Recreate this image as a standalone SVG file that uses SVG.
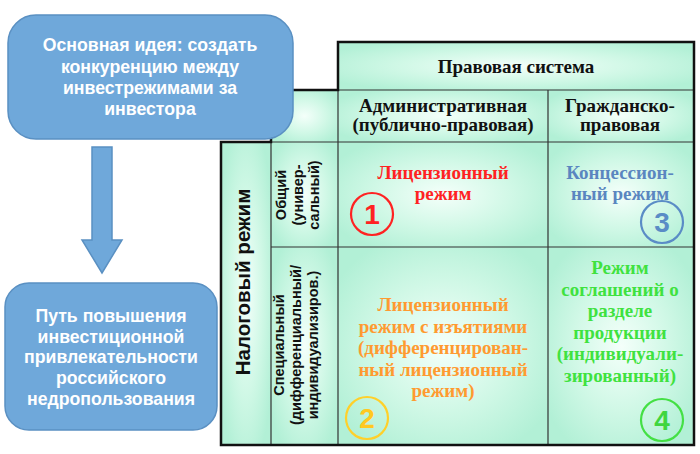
<svg xmlns="http://www.w3.org/2000/svg" width="700" height="454" viewBox="0 0 700 454">
<defs>
<radialGradient id="cell" cx="0.5" cy="0.5" r="0.6">
<stop offset="0" stop-color="#f4fffa"/>
<stop offset="0.55" stop-color="#d0f8e6"/>
<stop offset="1" stop-color="#b2f0d6"/>
</radialGradient>
<style>
.cell{fill:url(#cell);stroke:none}
.grid{stroke:#333;stroke-width:1.2;fill:none}
.border{stroke:#111;stroke-width:2.5;fill:none}
.blue{fill:#6fa8da;stroke:#5a90c2;stroke-width:1.5}
.wt{font-family:"Liberation Sans",Arial,sans-serif;font-weight:bold;font-size:17.7px;fill:#fff;text-anchor:middle}
.hd{font-family:"Liberation Serif","Times New Roman",serif;font-weight:bold;font-size:19px;fill:#111;text-anchor:middle}
.rs{font-family:"Liberation Serif","Times New Roman",serif;font-weight:bold;font-size:19px;text-anchor:middle}
.sb{font-family:"Liberation Sans",Arial,sans-serif;font-weight:bold;fill:#111;text-anchor:middle}
.num{font-family:"Liberation Sans",Arial,sans-serif;font-weight:bold;font-size:28px;text-anchor:middle}
.circ{fill:none;stroke-width:2.2}
</style>
</defs>
<rect width="700" height="454" fill="#fff"/>

<g id="table">
<rect class="cell" x="338" y="42" width="356" height="48"/>
<rect class="cell" x="271" y="90" width="67" height="52"/>
<rect class="cell" x="338" y="90" width="210" height="52"/>
<rect class="cell" x="548" y="90" width="146" height="52"/>
<rect class="cell" x="221" y="142" width="50" height="303"/>
<rect class="cell" x="271" y="142" width="67" height="105"/>
<rect class="cell" x="338" y="142" width="210" height="105"/>
<rect class="cell" x="548" y="142" width="146" height="105"/>
<rect class="cell" x="271" y="247" width="67" height="198"/>
<rect class="cell" x="338" y="247" width="210" height="198"/>
<rect class="cell" x="548" y="247" width="146" height="198"/>
<path class="grid" d="M338 90H694M271 142H694M271 247H694M338 90V445M548 90V445M271 142V445"/>
<path class="border" d="M338 42H694V445H221V142H271V90H338Z"/>
</g>

<g id="header-legal">
<text class="hd" x="516" y="73">Правовая система</text>
</g>
<g id="header-admin">
<text class="hd" font-size="18.5"><tspan x="443" y="112">Административная</tspan><tspan x="443" y="131">(публично-правовая)</tspan></text>
</g>
<g id="header-civil">
<text class="hd" font-size="18.5"><tspan x="620" y="112">Гражданско-</tspan><tspan x="620" y="131">правовая</tspan></text>
</g>
<g id="header-tax">
<text class="sb" font-size="20.5" transform="translate(250,282) rotate(-90)" x="0" y="0">Налоговый режим</text>
</g>
<g id="row-general">
<text class="sb" font-size="14.5" transform="translate(0,195) rotate(-90)"><tspan x="0" y="286">Общий</tspan><tspan x="0" y="302.5">(универ-</tspan><tspan x="0" y="319">сальный)</tspan></text>
</g>
<g id="row-special">
<text class="sb" font-size="14.5" transform="translate(0,345) rotate(-90)"><tspan x="0" y="284">Специальный</tspan><tspan x="0" y="301">(дифференциальный/</tspan><tspan x="0" y="318">индивидуализиров.)</tspan></text>
</g>

<g id="cell-1">
<text class="rs" fill="#ff2222"><tspan x="443" y="179">Лицензионный</tspan><tspan x="443" y="200">режим</tspan></text>
<circle class="circ" cx="372" cy="214" r="21" stroke="#ff2222"/>
<text class="num" x="372" y="224" fill="#ff2222">1</text>
</g>
<g id="cell-3">
<text class="rs" fill="#5a86c0"><tspan x="620" y="179">Концессион-</tspan><tspan x="620" y="200">ный режим</tspan></text>
<circle class="circ" cx="662" cy="222" r="21" stroke="#5a8cc6"/>
<text class="num" x="662" y="232" fill="#5a8cc6">3</text>
</g>
<g id="cell-2">
<text class="rs" fill="#ff9a30"><tspan x="443" y="311">Лицензионный</tspan><tspan x="443" y="332.5">режим с изъятиями</tspan><tspan x="443" y="354">(дифференцирован-</tspan><tspan x="443" y="375.5">ный лицензионный</tspan><tspan x="443" y="397">режим)</tspan></text>
<circle class="circ" cx="367" cy="418" r="21" stroke="#ffd02a"/>
<text class="num" x="367" y="428" fill="#ffc820">2</text>
</g>
<g id="cell-4">
<text class="rs" fill="#3fe23f"><tspan x="620" y="274">Режим</tspan><tspan x="620" y="295.5">соглашений о</tspan><tspan x="620" y="317">разделе</tspan><tspan x="620" y="338.5">продукции</tspan><tspan x="620" y="360">(индивидуали-</tspan><tspan x="620" y="381.5">зированный)</tspan></text>
<circle class="circ" cx="662" cy="420" r="21" stroke="#44e044"/>
<text class="num" x="662" y="430" fill="#3fd63f">4</text>
</g>

<g id="connectors">
<path class="blue" d="M92 147H112V240H122L102 273L82 240H92Z"/>
</g>

<g id="idea">
<rect class="blue" x="8" y="15" width="285" height="124" rx="28"/>
<text class="wt" font-size="20"><tspan x="150" y="51">Основная идея: создать</tspan><tspan x="150" y="72.5">конкуренцию между</tspan><tspan x="150" y="94">инвестрежимами за</tspan><tspan x="150" y="115">инвестора</tspan></text>
</g>
<g id="path-box">
<rect class="blue" x="5" y="283" width="212" height="147" rx="24"/>
<text class="wt"><tspan x="111" y="322">Путь повышения</tspan><tspan x="111" y="342.5">инвестиционной</tspan><tspan x="111" y="363">привлекательности</tspan><tspan x="111" y="384">российского</tspan><tspan x="111" y="404.5">недропользования</tspan></text>
</g>
</svg>
